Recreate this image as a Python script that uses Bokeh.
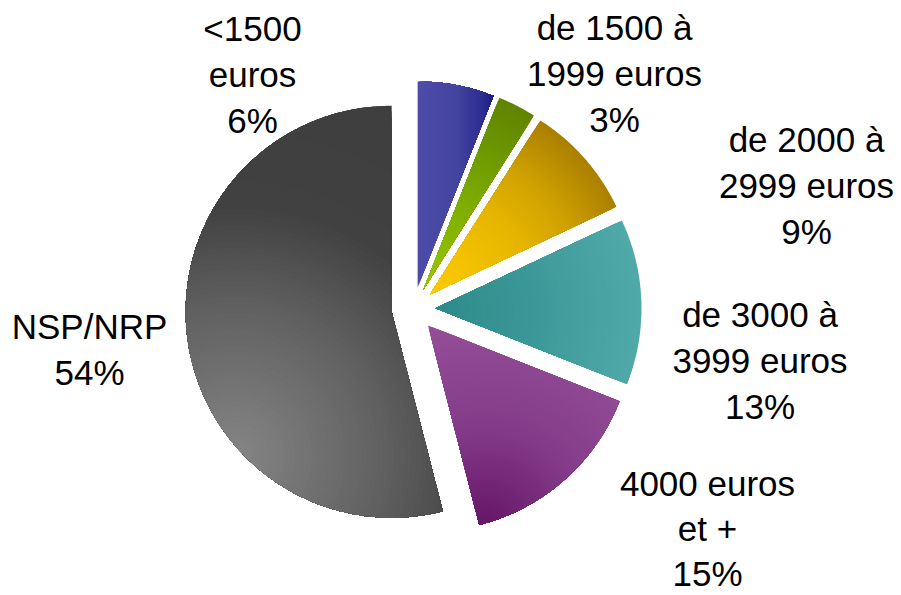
import numpy as np
from bokeh.plotting import figure
from bokeh.models import Range1d
from bokeh.core.properties import value
from bokeh.embed import file_html
from bokeh.resources import INLINE

# ---------------- data ----------------
categories = ["<1500\neuros", "de 1500 à\n1999 euros", "de 2000 à\n2999 euros",
              "de 3000 à\n3999 euros", "4000 euros\net +", "NSP/NRP"]
shares = [6, 3, 9, 13, 15, 54]

# ---------------- layout / style ----------------
W, H = 901, 595
MARGIN = 0


def px(X, Y):
    """screen pixel (page) -> plot data coords (y up)"""
    return X - MARGIN, (MARGIN + H) - Y


CENTER = px(413, 308.5)
RADIUS = 206.0
EXPLODE = 22.0
label_anchor = [(252, 28), (614, 27), (806, 139), (759.5, 314), (707, 483), (89, 326)]
LINE_GAP = [46, 46, 46, 46, 45, 46]
FONT = "Liberation Sans"
FONT_SIZE = "35px"

# ("linear", angle_deg, stops[px along dir]) or ("radial", screen centre, stops[px distance])
fills = [
    ("linear", 0, [(0, "#4e4ea9"), (40, "#4444a0"), (65, "#2c2c92"), (84, "#10107c")]),
    ("radial", (428, 292), [(0, "#98c800"), (110, "#7aa800"), (215, "#5e8000")]),
    ("radial", (432, 298), [(0, "#ffcc00"), (100, "#e6b600"), (150, "#d0a200"), (215, "#a47a00")]),
    ("radial", (437, 311), [(0, "#2c8c8a"), (90, "#3b9797"), (210, "#52aaaa")]),
    ("radial", (484, 524), [(0, "#661666"), (100, "#843c8a"), (210, "#955099")]),
    ("radial", (235, 455), [(0, "#858585"), (150, "#606060"), (250, "#414141"), (400, "#3e3e3e")]),
]


def hex2rgb(h):
    h = h.lstrip("#")
    return np.array([int(h[i:i + 2], 16) for i in (0, 2, 4)], dtype=float)


def color_at(stops, d):
    pos = [s[0] for s in stops]
    cols = [hex2rgb(s[1]) for s in stops]
    if d <= pos[0]:
        c = cols[0]
    elif d >= pos[-1]:
        c = cols[-1]
    else:
        for i in range(len(pos) - 1):
            if pos[i] <= d <= pos[i + 1]:
                t = (d - pos[i]) / (pos[i + 1] - pos[i])
                c = cols[i] * (1 - t) + cols[i + 1] * t
                break
    c = np.clip(np.round(c), 0, 255).astype(int)
    return "#%02x%02x%02x" % tuple(c)


def clip_half(poly, n, c):
    """keep part of polygon where n.p >= c"""
    if len(poly) == 0:
        return poly
    f = poly @ n - c
    inside = f >= 0
    if inside.all():
        return poly
    if not inside.any():
        return poly[:0]
    Q = np.roll(poly, -1, axis=0)
    fq = np.roll(f, -1)
    iq = np.roll(inside, -1)
    cross = inside != iq
    denom = np.where(cross, f - fq, 1.0)
    t = np.where(cross, f / denom, 0.0)
    I = poly + t[:, None] * (Q - poly)
    pts = np.stack([poly, I], axis=1)
    mask = np.stack([inside, cross], axis=1)
    return pts[mask]


M_SIDES = 120
phis = np.linspace(0, 2 * np.pi, M_SIDES, endpoint=False)
normals = np.stack([np.cos(phis), np.sin(phis)], axis=1)


def clip_disk(poly, c0, r):
    rr = r / np.cos(np.pi / M_SIDES)
    for n in normals:
        poly = clip_half(poly, -n, -rr - n @ c0)
        if len(poly) == 0:
            break
    return poly


# ---------------- build slices ----------------
total = float(sum(shares))
cx, cy = CENTER
xs, ys, cols = [], [], []
start = 0.0
for share, fill in zip(shares, fills):
    a0 = start / total * 2 * np.pi
    a1 = (start + share) / total * 2 * np.pi
    start += share
    mid = (a0 + a1) / 2
    vx = cx + EXPLODE * np.sin(mid)
    vy = cy + EXPLODE * np.cos(mid)
    th = np.linspace(a0, a1, max(8, int(np.degrees(a1 - a0) * 2)))
    arc = np.stack([vx + RADIUS * np.sin(th), vy + RADIUS * np.cos(th)], axis=1)
    poly = np.vstack([[vx, vy], arc])

    kind, param, stops = fill
    N = 70
    if kind == "linear":
        ang = np.radians(param)
        u = np.array([np.cos(ang), np.sin(ang)])
        proj = poly @ u
        tmin, tmax = proj.min(), proj.max()
        step = (tmax - tmin) / N
        for k in range(N):
            s = tmin + k * step
            reg = clip_half(poly, u, s) if k > 0 else poly
            if len(reg) < 3:
                continue
            xs.append(list(reg[:, 0])); ys.append(list(reg[:, 1]))
            cols.append(color_at(stops, s - tmin + step / 2))
    else:
        c0 = np.array(px(*param))
        d = np.sqrt(((poly - c0) ** 2).sum(axis=1))
        rmax = d.max()
        step = rmax / N
        for k in range(N):
            r = rmax - k * step
            reg = poly if k == 0 else clip_disk(poly, c0, r)
            if len(reg) < 3:
                continue
            xs.append(list(reg[:, 0])); ys.append(list(reg[:, 1]))
            cols.append(color_at(stops, r - step / 2))

p = figure(width=W, height=H, x_range=Range1d(0, W), y_range=Range1d(0, H),
           output_backend="svg", toolbar_location=None,
           x_axis_location=None, y_axis_location=None, min_border=0)
p.grid.visible = False
p.outline_line_color = None
p.background_fill_color = "white"
p.border_fill_color = "white"

p.patches(xs, ys, fill_color=cols, line_color=None)

# ---------------- labels ----------------
tx, ty, tt = [], [], []
for cat, share, (ax, ay), gap in zip(categories, shares, label_anchor, LINE_GAP):
    lines = (cat + "\n" + f"{share}%").split("\n")
    for j, line in enumerate(lines):
        x, y = px(ax, ay + j * gap)
        tx.append(x); ty.append(y); tt.append(line)

p.text(tx, ty, text=tt, text_align="center", text_baseline="alphabetic",
       text_font=value(FONT), text_font_size=FONT_SIZE, text_color="black")

open("out.html", "w").write(file_html(p, INLINE))
